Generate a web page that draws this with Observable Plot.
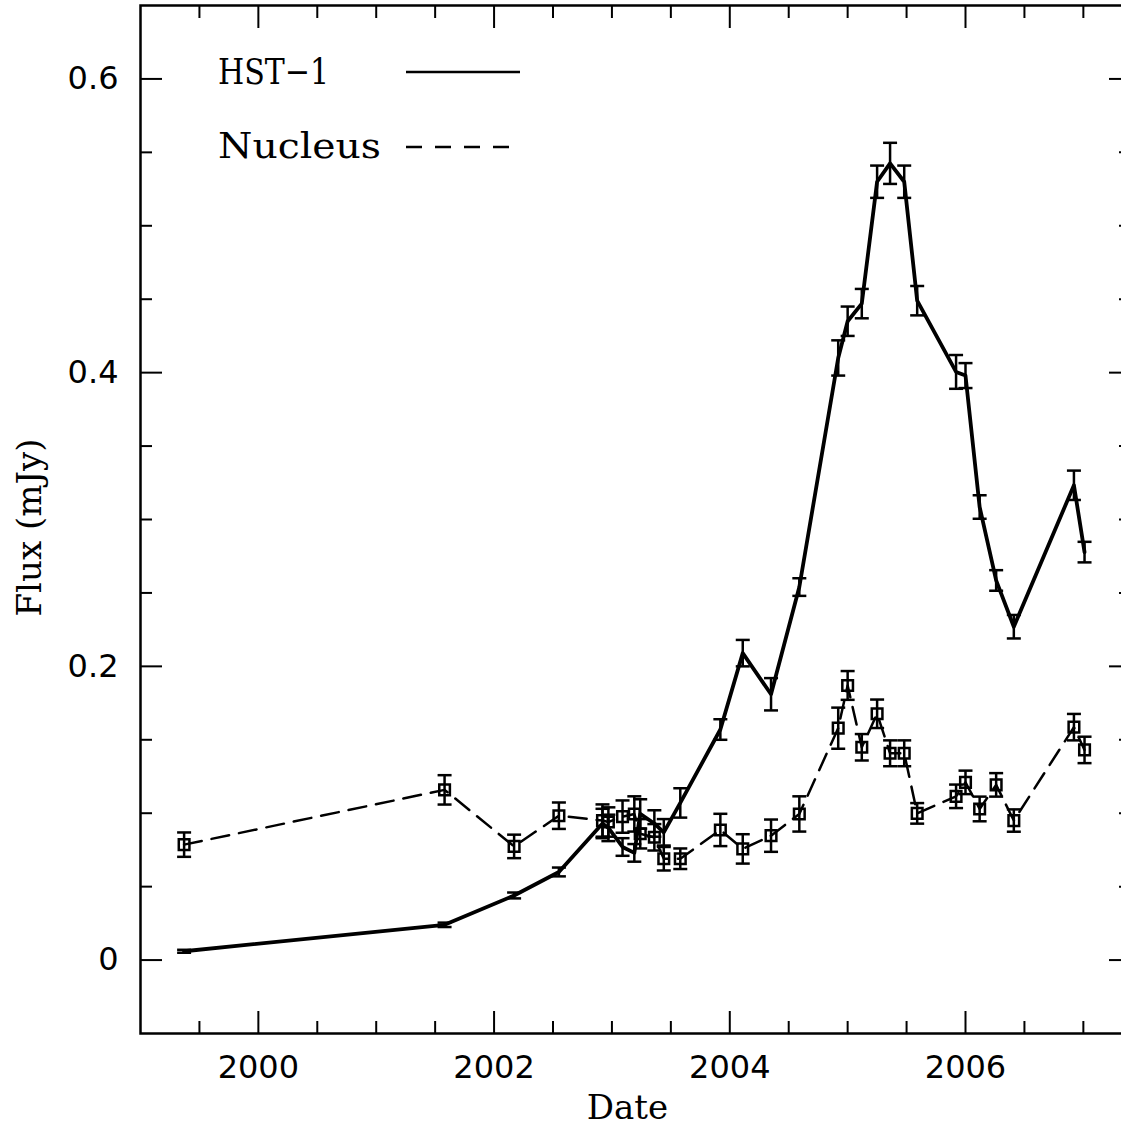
<!DOCTYPE html>
<html><head><meta charset="utf-8">
<script src="https://cdn.jsdelivr.net/npm/d3@7"></script>
<script src="https://cdn.jsdelivr.net/npm/@observablehq/plot@0.6"></script>
<style>
html,body{margin:0;padding:0;background:#fff;}
#wrap{position:relative;width:1121px;height:1129px;overflow:hidden;background:#fff;}
#legend{position:absolute;left:0;top:0;pointer-events:none;}
</style></head><body>
<div id="wrap"></div>
<script>
// ---- data ----
const dates = [1999.37, 2001.58, 2002.17, 2002.55, 2002.92, 2002.97, 2003.09, 2003.19, 2003.24, 2003.36, 2003.44, 2003.58, 2003.92, 2004.11, 2004.35, 2004.59, 2004.92, 2005.00, 2005.12, 2005.25, 2005.36, 2005.48, 2005.59, 2005.92, 2006.00, 2006.12, 2006.26, 2006.41, 2006.92, 2007.01];
const hstFlux = [0.006, 0.024, 0.044, 0.060, 0.093, 0.090, 0.077, 0.073, 0.0995, 0.093, 0.087, 0.107, 0.157, 0.209, 0.181, 0.254, 0.410, 0.435, 0.447, 0.530, 0.5425, 0.530, 0.449, 0.4005, 0.398, 0.3085, 0.2585, 0.227, 0.3233, 0.2778];
const hstErr = [0.001, 0.0015, 0.002, 0.003, 0.010, 0.009, 0.006, 0.006, 0.010, 0.009, 0.009, 0.010, 0.007, 0.009, 0.011, 0.006, 0.012, 0.010, 0.010, 0.011, 0.014, 0.011, 0.010, 0.0115, 0.0085, 0.008, 0.007, 0.008, 0.010, 0.007];
const nucFlux = [0.0786, 0.1159, 0.0774, 0.0983, 0.095, 0.094, 0.0977, 0.0995, 0.086, 0.0836, 0.069, 0.069, 0.0886, 0.0757, 0.0847, 0.0995, 0.1579, 0.187, 0.1449, 0.1677, 0.1408, 0.1408, 0.0999, 0.1115, 0.121, 0.1029, 0.1193, 0.095, 0.1586, 0.1431];
const nucErr = [0.0083, 0.010, 0.008, 0.009, 0.011, 0.010, 0.011, 0.012, 0.010, 0.009, 0.008, 0.007, 0.011, 0.010, 0.011, 0.012, 0.014, 0.0098, 0.009, 0.0097, 0.0088, 0.0088, 0.007, 0.008, 0.008, 0.0084, 0.008, 0.0076, 0.009, 0.009];
const seriesNames = ["HST\u22121", "Nucleus"];
const xLabel = "Date";
const yLabel = "Flux (mJy)";
const xMajorTicks = [2000, 2002, 2004, 2006];
const xMinorTicks = [1999.5, 2000.5, 2001, 2001.5, 2002.5, 2003, 2003.5, 2004.5, 2005, 2005.5, 2006.5, 2007];
const yMajorTicks = [0, 0.2, 0.4, 0.6];
const yMinorTicks = [0.05, 0.1, 0.15, 0.25, 0.3, 0.35, 0.45, 0.5, 0.55];

const hst = dates.map((d, i) => ({date: d, flux: hstFlux[i], err: hstErr[i]}));
const nuc = dates.map((d, i) => ({date: d, flux: nucFlux[i], err: nucErr[i]}));

const cap = {draw(ctx) { ctx.moveTo(-7, 0); ctx.lineTo(7, 0); }};
const tickFont = "DejaVu Sans";
const labelFont = "DejaVu Serif";

function errorMarks(data, sw) {
  return [
    Plot.ruleX(data, {x: "date", y1: d => d.flux - d.err, y2: d => d.flux + d.err, stroke: "black", strokeWidth: sw}),
    Plot.dot(data, {x: "date", y: d => d.flux - d.err, symbol: cap, r: 5, stroke: "black", fill: "none", strokeWidth: sw}),
    Plot.dot(data, {x: "date", y: d => d.flux + d.err, symbol: cap, r: 5, stroke: "black", fill: "none", strokeWidth: sw})
  ];
}

const tickOpts = {fill: "none", stroke: "black", strokeWidth: 2, label: null};

const chart = Plot.plot({
  width: 1130,
  height: 1129,
  marginLeft: 140,
  marginRight: 0,
  marginTop: 5,
  marginBottom: 96,
  style: {background: "white", color: "black", overflow: "visible", maxWidth: "none"},
  x: {domain: [1999, 2007.4]},
  y: {domain: [-0.05, 0.65]},
  marks: [
    // ticks (inward, mirrored)
    Plot.axisX(xMajorTicks, {...tickOpts, anchor: "bottom", tickSize: -22}),
    Plot.axisX(xMajorTicks, {...tickOpts, anchor: "top", tickSize: -22}),
    Plot.axisX(xMinorTicks, {...tickOpts, anchor: "bottom", tickSize: -12}),
    Plot.axisX(xMinorTicks, {...tickOpts, anchor: "top", tickSize: -12}),
    Plot.axisY(yMajorTicks, {...tickOpts, anchor: "left", tickSize: -22}),
    Plot.axisY(yMajorTicks, {...tickOpts, anchor: "right", tickSize: -22}),
    Plot.axisY(yMinorTicks, {...tickOpts, anchor: "left", tickSize: -12}),
    Plot.axisY(yMinorTicks, {...tickOpts, anchor: "right", tickSize: -12}),
    // tick labels
    Plot.axisX(xMajorTicks, {anchor: "bottom", tickSize: 0, tickPadding: 22, label: null, tickFormat: "d", fontSize: 32, fontFamily: tickFont, fill: "black"}),
    Plot.axisY(yMajorTicks, {anchor: "left", tickSize: 0, tickPadding: 22, label: null, tickFormat: d => String(d), fontSize: 32, fontFamily: tickFont, fill: "black"}),
    // axis labels
    Plot.text([xLabel], {text: d => d, frameAnchor: "bottom", dy: 75, dx: -8, lineAnchor: "middle", textAnchor: "middle", fontSize: 34, fontFamily: labelFont, fill: "black"}),
    Plot.text([yLabel], {text: d => d, frameAnchor: "left", dx: -110, dy: 8, rotate: -90, lineAnchor: "middle", textAnchor: "middle", fontSize: 34, fontFamily: labelFont, fill: "black"}),
    // Nucleus
    Plot.line(nuc, {x: "date", y: "flux", stroke: "black", strokeWidth: 2.5, strokeDasharray: "18,10"}),
    ...errorMarks(nuc, 2.5),
    Plot.dot(nuc, {x: "date", y: "flux", symbol: "square", r: 6, stroke: "black", fill: "none", strokeWidth: 2.5}),
    // HST-1
    Plot.line(hst, {x: "date", y: "flux", stroke: "black", strokeWidth: 3.8}),
    ...errorMarks(hst, 2.5),
    Plot.frame({stroke: "black", strokeWidth: 2.5})
  ]
});
const wrap = document.getElementById("wrap");
wrap.appendChild(chart);

// legend (inside the frame, upper left)
const lg = d3.select(wrap).append("svg").attr("id", "legend").attr("width", 1121).attr("height", 1129);
const items = [
  {name: seriesNames[0], tx: 218, ty: 84, len: 111, lx1: 406, lx2: 520, ly: 72, dash: null},
  {name: seriesNames[1], tx: 218, ty: 158, len: 163, lx1: 406, lx2: 511, ly: 147, dash: "16,13"}
];
for (const it of items) {
  lg.append("text").attr("x", it.tx).attr("y", it.ty).attr("font-family", labelFont).attr("font-size", 36)
    .attr("textLength", it.len).attr("lengthAdjust", "spacingAndGlyphs").text(it.name);
  lg.append("line").attr("x1", it.lx1).attr("x2", it.lx2).attr("y1", it.ly).attr("y2", it.ly)
    .attr("stroke", "black").attr("stroke-width", 2.5).attr("stroke-dasharray", it.dash);
}
</script>
</body></html>
